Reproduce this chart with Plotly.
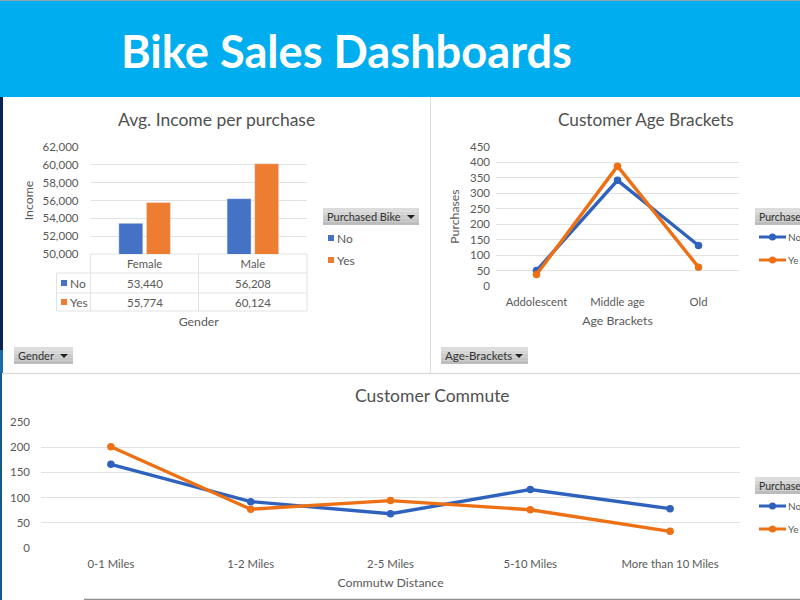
import plotly.graph_objects as go

W, H = 800, 600
FONT = "Lato"
TXT = "#595959"
GRID = "#e2e2e2"
BLUE = "#2e62bd"
ORANGE = "#ed7014"
BAR_BLUE = "#4472c4"
BAR_ORANGE = "#ed7d31"

# ---- data ----
main_title = "Bike Sales Dashboards"
series_names = ["No", "Yes"]
legend_title = "Purchased Bike"
# the two right-hand legends are cropped by the reference's edge: only this much shows
cropped_title = "Purchase"
cropped_names = ["No", "Ye"]

gender_cats = ["Female", "Male"]
income_no = [53440, 56208]
income_yes = [55774, 60124]

age_cats = ["Addolescent", "Middle age", "Old"]
age_no = [50, 342, 131]
age_yes = [37, 388, 61]

commute_cats = ["0-1 Miles", "1-2 Miles", "2-5 Miles", "5-10 Miles", "More than 10 Miles"]
commute_no = [166, 92, 68, 116, 78]
commute_yes = [201, 77, 94, 76, 33]


def fx(px):
    return px / W


def fy(py):
    return 1 - py / H


shapes = []
annotations = []


def rect(x0, y0, x1, y1, fill, line=None, layer="below"):
    shapes.append(dict(type="rect", xref="paper", yref="paper", x0=fx(x0), x1=fx(x1),
                       y0=fy(y0), y1=fy(y1), fillcolor=fill, layer=layer,
                       line=dict(width=1 if line else 0, color=line or fill)))


def seg(x0, y0, x1, y1, color=GRID, width=1, layer="below"):
    shapes.append(dict(type="line", xref="paper", yref="paper", x0=fx(x0), x1=fx(x1),
                       y0=fy(y0), y1=fy(y1), layer=layer, line=dict(color=color, width=width)))


def text(x, y, s, size=12, color=TXT, anchor="center", **kw):
    annotations.append(dict(xref="paper", yref="paper", x=fx(x), y=fy(y), text=s, showarrow=False,
                            xanchor=anchor, yanchor="middle", xshift=0, yshift=0,
                            borderpad=0, borderwidth=0,
                            font=dict(family=FONT, size=size, color=color), **kw))


def button(x0, y0, x1, y1, label, arrow_x=None, size=11):
    n = 5
    shades = ["#dcdcdc", "#d4d4d4", "#cccccc", "#c4c4c4", "#bcbcbc"]
    h = (y1 - y0) / n
    for i in range(n):
        rect(x0, y0 + i * h, x1, y0 + (i + 1) * h, shades[i])
    text(x0 + 4, (y0 + y1) / 2, label, size=size, color="#333333", anchor="left")
    if arrow_x is not None:
        cy = (y0 + y1) / 2
        shapes.append(dict(type="path", xref="paper", yref="paper", layer="above",
                           path=f"M {fx(arrow_x-4)} {fy(cy-1.5)} L {fx(arrow_x+4)} {fy(cy-1.5)} L {fx(arrow_x)} {fy(cy+2.5)} Z",
                           fillcolor="#222222", line=dict(width=0)))


def line_key(x0, x1, y, color, label):
    seg(x0, y, x1, y, color=color, width=3, layer="above")
    mid = (x0 + x1) / 2
    r = 3.5
    shapes.append(dict(type="circle", xref="paper", yref="paper", layer="above",
                       x0=fx(mid - r), x1=fx(mid + r), y0=fy(y + r), y1=fy(y - r),
                       fillcolor=color, line=dict(width=0)))
    text(x1 + 1.5, y, label, size=10, anchor="left")


# ---- page furniture ----
rect(0, 0, 800, 600, "#ffffff")
rect(0, 0, 800, 1, "#8fa7b5")
rect(0, 1, 800, 97, "#00aeef")
rect(0, 97, 3, 350, "#0b2350")
rect(0, 350, 3, 373, "#1b6ea5")
rect(0, 373, 2, 600, "#145a8c")
seg(430.5, 97, 430.5, 373, color="#dddddd")
seg(3, 373.5, 800, 373.5, color="#dddddd", width=1.5)
seg(84, 599.5, 800, 599.5, color="#909090", width=1.5)

# ---- titles ----
text(216, 119, "Avg. Income per purchase", size=17.5, color="#505050")
text(645.5, 119, "Customer Age Brackets", size=17.2, color="#505050")
text(432, 395, "Customer Commute", size=17.5, color="#505050")

# ---- data table under the bar chart ----
tx = [56.5, 90.5, 198.5, 307]
ty = [254, 273, 293, 311]
seg(tx[1], ty[0], tx[1], ty[3])
seg(tx[2], ty[0], tx[2], ty[3])
seg(tx[3], ty[0], tx[3], ty[3])
seg(tx[0], ty[1], tx[0], ty[3])
seg(tx[1], ty[0], tx[3], ty[0])
seg(tx[0], ty[1], tx[3], ty[1])
seg(tx[0], ty[2], tx[3], ty[2])
seg(tx[0], ty[3], tx[3], ty[3])
for row, (name, vals, colr) in enumerate(zip(series_names, [income_no, income_yes], [BAR_BLUE, BAR_ORANGE])):
    cy = (ty[row + 1] + ty[row + 2]) / 2
    rect(61, cy - 3, 67, cy + 3, colr)
    text(70, cy, name, size=12, anchor="left")
    for col, v in enumerate(vals):
        text((tx[col + 1] + tx[col + 2]) / 2, cy, f"{v:,}", size=11.5)

# ---- filter buttons and legends ----
button(323, 208, 419, 225, legend_title, arrow_x=411)
button(14, 347, 73, 364, "Gender", arrow_x=64)
button(441, 347, 528, 364, "Age-Brackets", arrow_x=519, size=11.5)
for y, name, colr in zip([238, 260], series_names, [BAR_BLUE, BAR_ORANGE]):
    rect(328, y - 3, 334, y + 3, colr)
    text(337, y, name, size=12, anchor="left")

button(755, 208, 800, 225, cropped_title, size=10.5)
for y, name, colr in zip([237, 260], cropped_names, [BLUE, ORANGE]):
    line_key(759, 786, y, colr, name)
button(755, 477, 800, 494, cropped_title, size=10.5)
for y, name, colr in zip([506, 529], cropped_names, [BLUE, ORANGE]):
    line_key(759, 786, y, colr, name)

# ---- traces ----
fig = go.Figure()
fig.add_bar(x=gender_cats, y=income_no, name="No", marker_color=BAR_BLUE, xaxis="x", yaxis="y")
fig.add_bar(x=gender_cats, y=income_yes, name="Yes", marker_color=BAR_ORANGE, xaxis="x", yaxis="y")


def add_lines(cats, no, yes, xa, ya):
    for vals, name, colr in ((no, "No", BLUE), (yes, "Yes", ORANGE)):
        fig.add_scatter(x=cats, y=vals, name=name, mode="lines+markers", xaxis=xa, yaxis=ya,
                        line=dict(color=colr, width=3.4), marker=dict(color=colr, size=7.5))


add_lines(age_cats, age_no, age_yes, "x2", "y2")
add_lines(commute_cats, commute_no, commute_yes, "x3", "y3")


def xaxis(x0, x1, anchor, title, standoff, cats, label_gap=0):
    return dict(domain=[fx(x0), fx(x1)], anchor=anchor, type="category", showgrid=False, ticks="",
                range=[-0.5, len(cats) - 0.5], showline=False, zeroline=False, automargin=False,
                ticklabelstandoff=label_gap,
                tickfont=dict(family=FONT, size=11.3, color=TXT),
                title=dict(text=title, standoff=standoff, font=dict(family=FONT, size=12.3, color=TXT)))


def yaxis(y0, y1, anchor, rng, dtick, title=None, fmt=None, standoff=6, label_gap=0):
    d = dict(domain=[fy(y1), fy(y0)], anchor=anchor, range=rng, dtick=dtick, showgrid=True, gridcolor=GRID,
             gridwidth=1, zeroline=False, showline=False, ticks="", automargin=False,
             ticklabelstandoff=label_gap,
             tickfont=dict(family=FONT, size=11.5, color=TXT))
    if title:
        d["title"] = dict(text=title, standoff=standoff, font=dict(family=FONT, size=12.3, color=TXT))
    if fmt:
        d["tickformat"] = fmt
    return d


fig.update_layout(
    width=W, height=H, autosize=False, showlegend=False,
    margin=dict(l=0, r=0, t=0, b=0, pad=0, autoexpand=False),
    paper_bgcolor="#ffffff", plot_bgcolor="rgba(0,0,0,0)",
    barmode="group", bargap=0.49, bargroupgap=0.13,
    title=dict(text=f"<b>{main_title}</b>", x=121 / W, xanchor="left", y=1 - 52 / H, yanchor="middle",
               font=dict(family=FONT, size=45.2, color="#ffffff")),
    xaxis=xaxis(90.5, 307, "y", "Gender", 48, gender_cats, label_gap=2),
    yaxis=yaxis(147, 254, "x", [50000, 62000], 2000, "Income", ",d", standoff=6, label_gap=11),
    xaxis2=xaxis(496, 739, "y2", "Age Brackets", 9, age_cats, label_gap=8),
    yaxis2=yaxis(147, 286, "x2", [0, 450], 50, "Purchases", standoff=7, label_gap=5),
    xaxis3=xaxis(41, 740, "y3", "Commutw Distance", 9, commute_cats, label_gap=8),
    yaxis3=yaxis(422, 548, "x3", [0, 250], 50, label_gap=10),
    shapes=shapes, annotations=annotations,
)

fig.write_html("out.html", config={"displayModeBar": False},
               post_script="document.body.style.margin='0';")
